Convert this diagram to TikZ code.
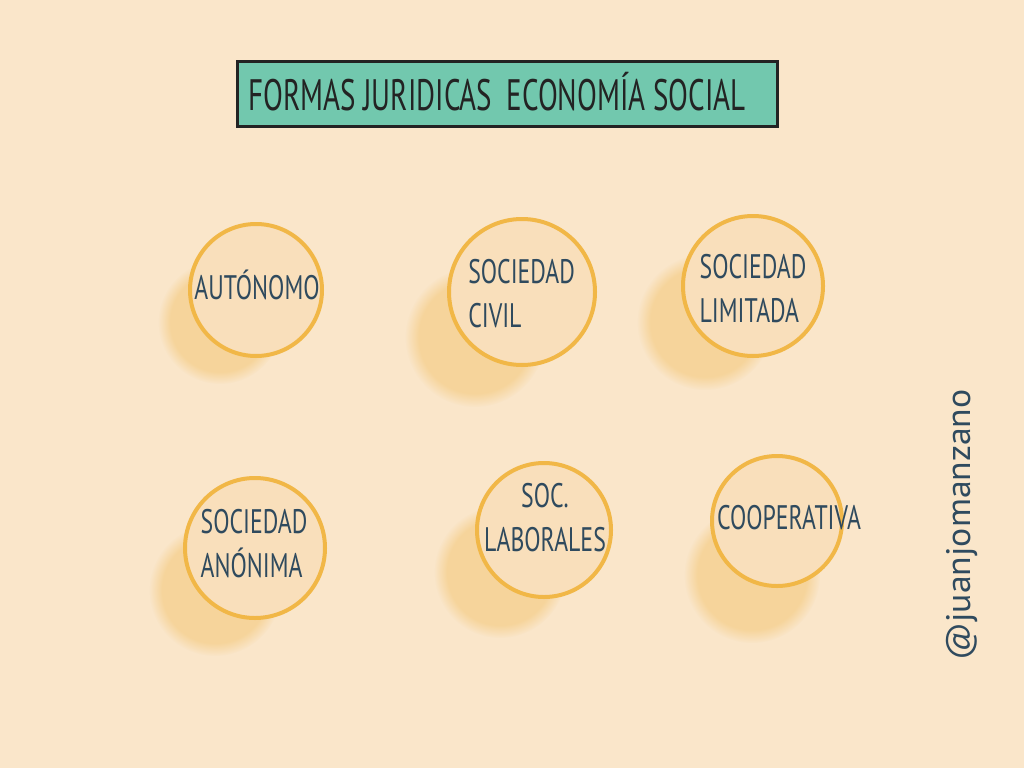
\documentclass[tikz,border=0pt]{standalone}
\usepackage{fontspec}
\setmainfont{PT Sans}
\usepackage{tikz}
\usetikzlibrary{fadings}
\definecolor{paperc}{HTML}{FAE6CA}
\definecolor{bubblec}{HTML}{F9DFBB}
\definecolor{ringc}{HTML}{F1B747}
\definecolor{blotc}{HTML}{F2BF62}
\definecolor{inkc}{HTML}{2F4A5E}
\definecolor{titlec}{HTML}{72C8AE}
\definecolor{framec}{HTML}{232323}

\begin{document}
\begin{tikzpicture}[x=1pt,y=-1pt,
    bubble/.style={circle, draw=ringc, line width=4pt, fill=bubblec, inner sep=0pt, minimum size=#1},
    blot/.style={fill=blotc, fill opacity=0.45, path fading=circle with fuzzy edge 20 percent},
    hand/.style={text=inkc, font=\fontsize{34}{44}\selectfont, xscale=0.7, transform shape, align=left, inner sep=0pt}]
    \fill[paperc] (0,0) rectangle (1024,768);
    \useasboundingbox (0,0) rectangle (1024,768);
    % title banner
    \node[draw=framec, line width=3pt, fill=titlec, minimum width=540pt, minimum height=65pt] (title) at (507,94) {};
    \node[text=framec, font=\fontsize{44}{44}\selectfont, xscale=0.66, transform shape, inner sep=0pt] (titletext) at (497,92) {FORMAS JURIDICAS\enspace ECONOMÍA SOCIAL};
    % soft blots behind the circles
    \fill[blot] (220,322) circle (62);
    \fill[blot] (475,337) circle (70);
    \fill[blot] (705,322) circle (68);
    \fill[blot] (215,590) circle (66);
    \fill[blot] (500,572) circle (66);
    \fill[blot] (752,575) circle (68);
    % circles
    \node[bubble=132pt] (autonomo) at (256,290) {};
    \node[bubble=146pt] (civil) at (522,292) {};
    \node[bubble=140pt] (limitada) at (753,286) {};
    \node[bubble=140pt] (anonima) at (255,548) {};
    \node[bubble=134pt] (laborales) at (544,530) {};
    \node[bubble=130pt] (cooperativa) at (777,521) {};
    % labels
    \node[hand] (autonomotext) at (257,285) {AUTÓNOMO};
    \node[hand, text width=185pt] (civiltext) at (533,294) {SOCIEDAD\\[0pt]CIVIL};
    \node[hand] (limitadatext) at (753,289) {SOCIEDAD\\[0pt]LIMITADA};
    \node[hand] (anonimatext) at (254,544) {SOCIEDAD\\[0pt]ANÓNIMA};
    \node[hand, align=center] (laboralestext) at (545,518) {SOC.\\[0pt]LABORALES};
    \node[hand] (cooperativatext) at (789,518) {COOPERATIVA};
    % signature
    \node[text=inkc, font=\fontsize{34}{34}\selectfont, rotate=90, xscale=1.05, transform shape, inner sep=0pt] (firma) at (962,525) {@juanjomanzano};
\end{tikzpicture}
\end{document}
